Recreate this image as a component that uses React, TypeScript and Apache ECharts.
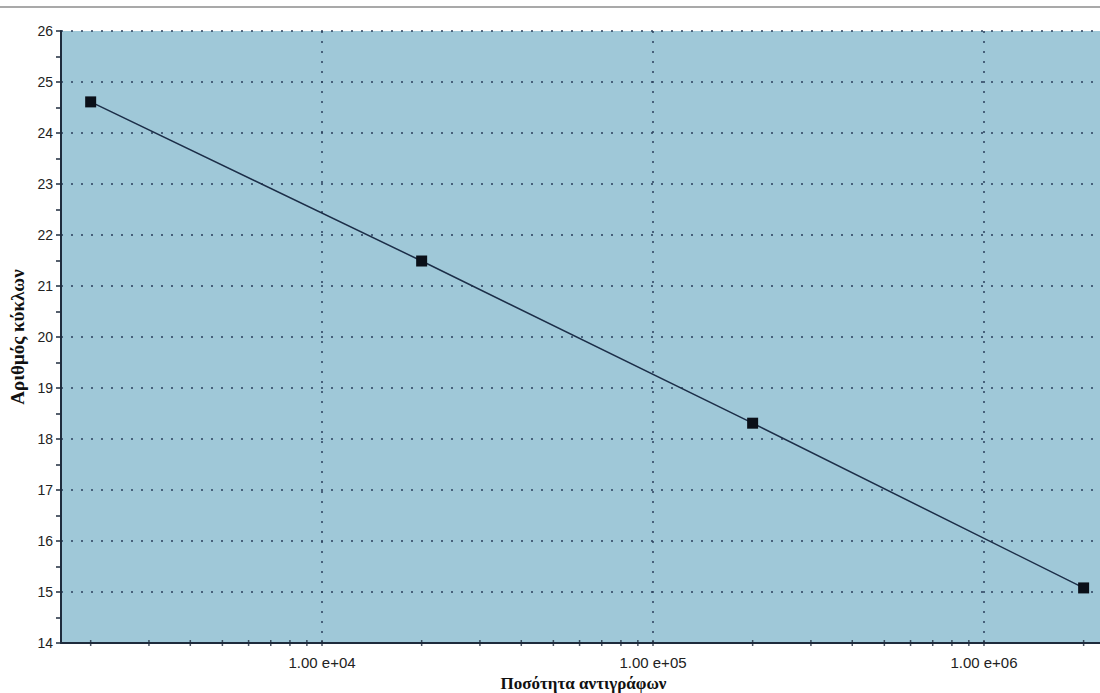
import React, { useEffect, useRef } from "react";
import * as echarts from "echarts";

const copies = [2000, 20000, 200000, 2000000];
const cycles = [24.61, 21.49, 18.31, 15.08];
const xTickValues = [
  2000, 3000, 4000, 5000, 6000, 7000, 8000, 9000, 10000,
  20000, 30000, 40000, 50000, 60000, 70000, 80000, 90000, 100000,
  200000, 300000, 400000, 500000, 600000, 700000, 800000, 900000, 1000000,
  2000000,
];
const xTitle = "Ποσότητα αντιγράφων";
const yTitle = "Αριθμός κύκλων";

const fmtSci = (v: number) => {
  const e = Math.floor(Math.log10(v) + 1e-9);
  const m = v / Math.pow(10, e);
  return `${m.toFixed(2)} e+${String(e).padStart(2, "0")}`;
};

export default function App() {
  const ref = useRef<HTMLDivElement>(null);
  useEffect(() => {
    document.body.style.margin = "0";
    const chart = echarts.init(ref.current!, null, { renderer: "svg" });
    const dark = "#1e2b3c";
    chart.setOption({
      animation: false,
      backgroundColor: "#ffffff",
      graphic: [
        {
          type: "line",
          shape: { x1: 0, y1: 7, x2: 1100, y2: 7 },
          style: { stroke: "#8c8c8c", lineWidth: 1.5 },
          silent: true,
        },
      ],
      grid: {
        left: 61,
        right: -6,
        top: 31,
        bottom: 50,
        containLabel: false,
        outerBoundsMode: "none",
        show: true,
        backgroundColor: "#9fc8d8",
        borderWidth: 0,
      },
      xAxis: {
        type: "log",
        logBase: 10,
        min: 1627,
        max: 2337000,
        name: xTitle,
        nameLocation: "middle",
        nameGap: 31,
        nameTextStyle: {
          fontFamily: "Liberation Serif",
          fontWeight: "bold",
          fontSize: 17,
          color: "#111",
        },
        axisLine: { show: true, lineStyle: { color: dark, width: 2 } },
        axisTick: { show: false },
        axisLabel: {
          showMinLabel: false,
          showMaxLabel: false,
          margin: 12,
          fontFamily: "Liberation Sans",
          fontSize: 15,
          color: "#222",
          formatter: (v: number) => fmtSci(v),
        },
        splitLine: {
          show: true,
          lineStyle: { color: "#2b3f5c", type: [2, 8], width: 1.5 },
        },
      },
      yAxis: {
        type: "value",
        min: 14,
        max: 26,
        interval: 1,
        name: yTitle,
        nameLocation: "middle",
        nameGap: 33,
        nameTextStyle: {
          fontFamily: "Liberation Serif",
          fontWeight: "bold",
          fontSize: 19,
          color: "#111",
        },
        axisLine: { show: true, lineStyle: { color: dark, width: 2 } },
        axisTick: { show: true, length: 5, lineStyle: { color: dark, width: 1.5 } },
        minorTick: { show: true, splitNumber: 2, length: 5, lineStyle: { color: dark, width: 1.5 } },
        axisLabel: {
          margin: 8,
          fontFamily: "Liberation Sans",
          fontSize: 14,
          color: "#222",
        },
        splitLine: {
          show: true,
          lineStyle: { color: "#2b3f5c", type: [2, 8], width: 1.5 },
        },
      },
      series: [
        {
          type: "scatter",
          silent: true,
          clip: false,
          symbol: "rect",
          symbolSize: [1.5, 6],
          itemStyle: { color: dark },
          data: xTickValues.map((v) => [v, 14]),
          z: 5,
        },
        {
          type: "line",
          data: copies.map((c, i) => [c, cycles[i]]),
          symbol: "rect",
          symbolSize: 11,
          lineStyle: { color: "#1c2e48", width: 1.5 },
          itemStyle: { color: "#0a0f18" },
          z: 6,
        },
      ],
    });
    return () => chart.dispose();
  }, []);
  return (
    <div
      ref={ref}
      style={{ position: "absolute", left: 0, top: 0, width: 1100, height: 693 }}
    />
  );
}
